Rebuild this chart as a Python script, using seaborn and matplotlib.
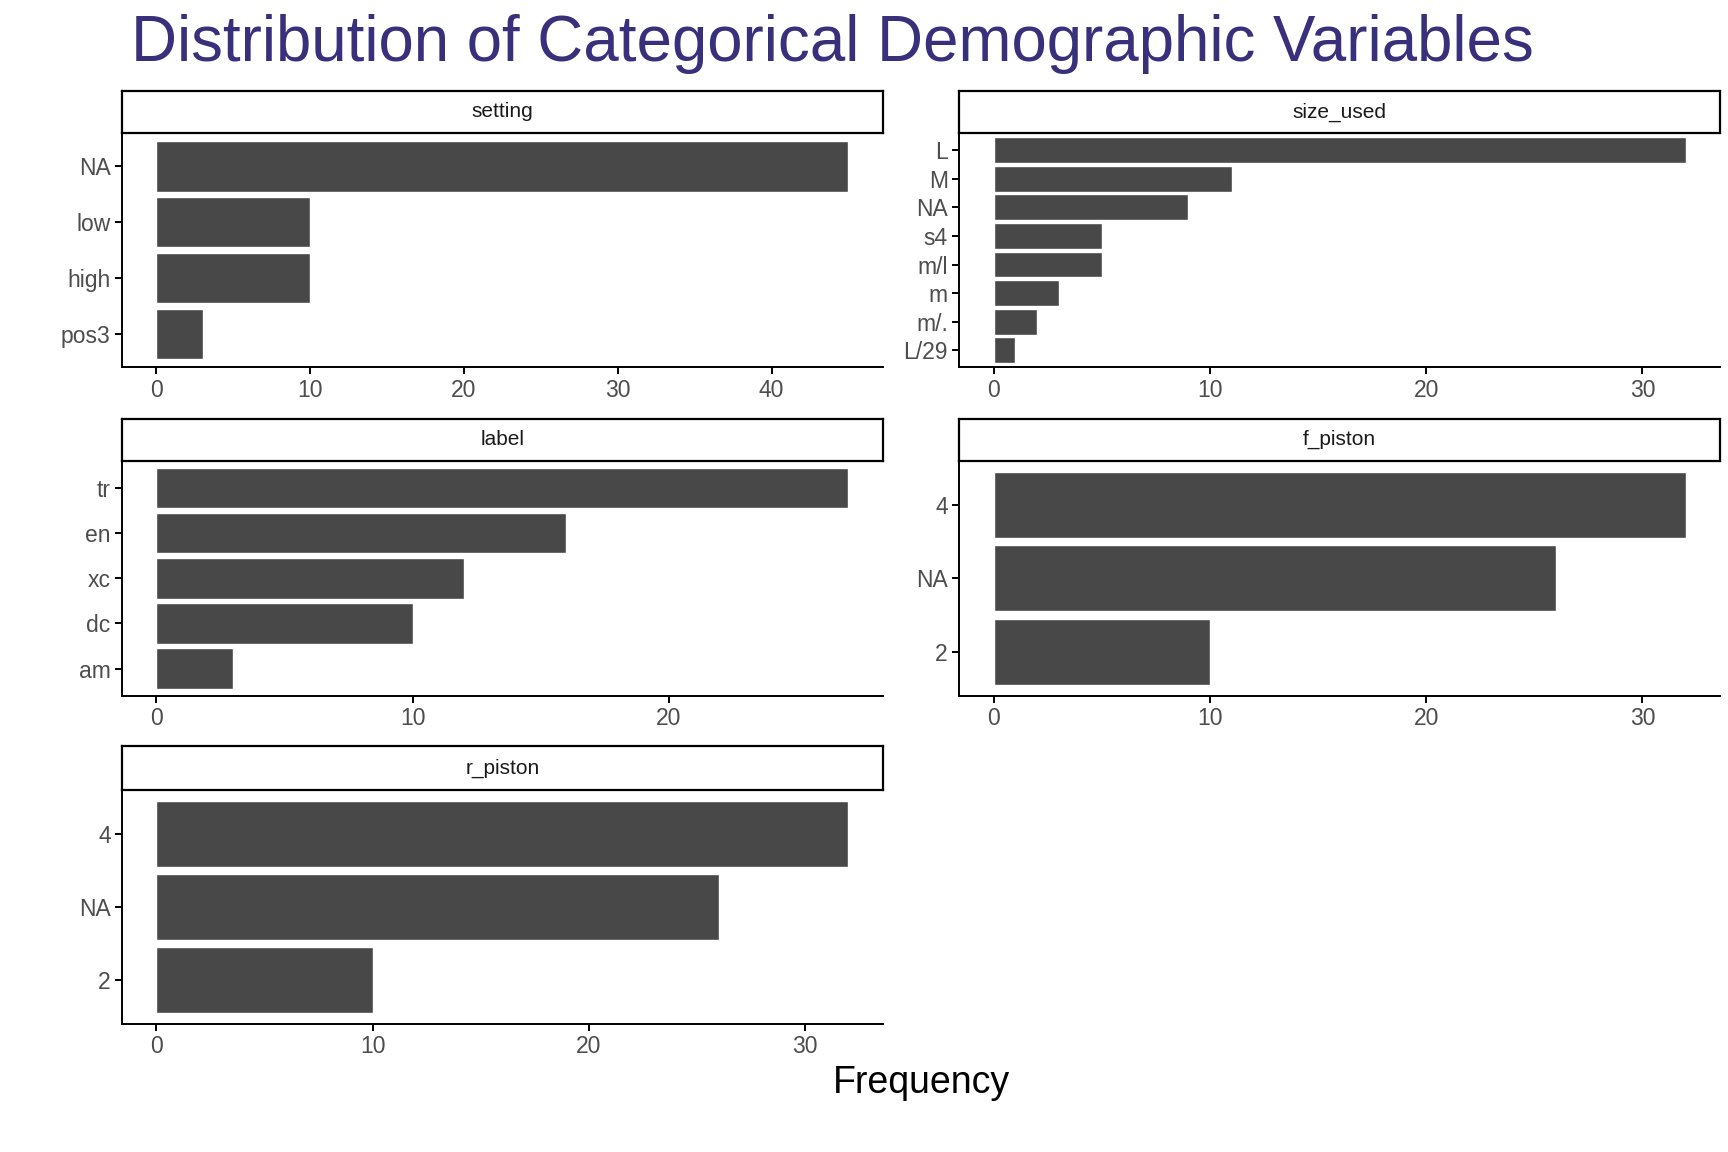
import matplotlib
matplotlib.use('Agg')
import matplotlib.pyplot as plt
from matplotlib.ticker import MultipleLocator
import pandas as pd
import seaborn as sns

#setting parameters
sns.set_theme(style='white')
plt.rcParams['font.family'] = ['Liberation Sans', 'DejaVu Sans']

#counts, one small list per variable
setting_levels = ['NA', 'low', 'high', 'pos3']
setting_counts = [45, 10, 10, 3]

size_levels = ['L', 'M', 'NA', 's4', 'm/l', 'm', 'm/.', 'L/29']
size_counts = [32, 11, 9, 5, 5, 3, 2, 1]

label_levels = ['tr', 'en', 'xc', 'dc', 'am']
label_counts = [27, 16, 12, 10, 3]

f_piston_levels = ['4', 'NA', '2']
f_piston_counts = [32, 26, 10]

r_piston_levels = ['4', 'NA', '2']
r_piston_counts = [32, 26, 10]

panels = [
    ('setting', setting_levels, setting_counts),
    ('size_used', size_levels, size_counts),
    ('label', label_levels, label_counts),
    ('f_piston', f_piston_levels, f_piston_counts),
    ('r_piston', r_piston_levels, r_piston_counts),
]

#panel positions in figure fractions (bottom of axes, top of axes, top of strip)
lefts = [0.0705, 0.555]
width = 0.4405
rows = [(0.681, 0.8846, 0.921), (0.396, 0.600, 0.6365), (0.111, 0.3144, 0.352)]

bar_col = '#484848'
tick_col = '#4d4d4d'

fig = plt.figure(figsize=(17.28, 11.52), dpi=100)

for i, (name, levels, counts) in enumerate(panels):
    r, c = divmod(i, 2)
    bottom, top, strip_top = rows[r]
    ax = fig.add_axes([lefts[c], bottom, width, top - bottom])
    df = pd.DataFrame({'level': levels, 'n': counts})
    sns.barplot(data=df, x='n', y='level', order=levels, color=bar_col,
                saturation=1, width=0.9, ax=ax)
    n = len(levels)
    mx = max(counts)
    ax.set_ylim(n - 0.4, -0.6)
    ax.set_xlim(-0.05 * mx, 1.05 * mx)
    ax.xaxis.set_major_locator(MultipleLocator(10))
    ax.set_xlabel('')
    ax.set_ylabel('')
    for s in ['top', 'right']:
        ax.spines[s].set_visible(False)
    for s in ['left', 'bottom']:
        ax.spines[s].set_color('black')
        ax.spines[s].set_linewidth(1.4)
    ax.tick_params(axis='both', which='major', length=5, width=1.4,
                   color='black', labelsize=16.5, labelcolor=tick_col,
                   left=True, bottom=True, pad=3)

    #facet strip above the panel
    sax = fig.add_axes([lefts[c], top, width, strip_top - top])
    sax.set_xticks([])
    sax.set_yticks([])
    for s in sax.spines.values():
        s.set_visible(True)
        s.set_color('black')
        s.set_linewidth(1.6)
    sax.text(0.5, 0.5, name, ha='center', va='center', fontsize=15,
             color='#1a1a1a', transform=sax.transAxes)

fig.text(0.0756, 0.947, 'Distribution of Categorical Demographic Variables',
         fontsize=45.8, color='#38307a', ha='left', va='baseline')
fig.text(0.533, 0.06, 'Frequency', fontsize=27, color='black',
         ha='center', va='center')

plt.savefig('out.png', dpi=100)
